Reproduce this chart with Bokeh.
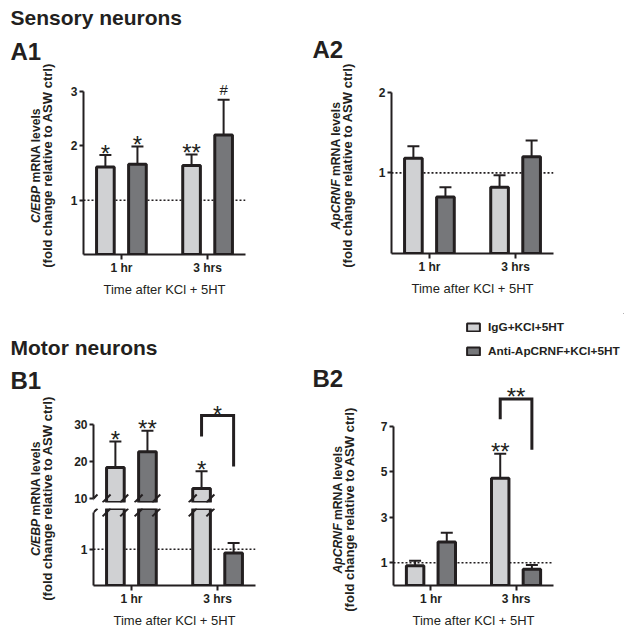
import math
from bokeh.plotting import figure
from bokeh.models import Range1d, FixedTicker, Span, Label, Legend, LegendItem
from bokeh.layouts import row, column
from bokeh.embed import file_html
from bokeh.resources import INLINE
from bokeh.core.properties import value

FONT = "Liberation Sans"
INK = "#231f20"

# ---------------- data ----------------
times = ["1 hr", "3 hrs"]
series = ["IgG+KCl+5HT", "Anti-ApCRNF+KCl+5HT"]
series_colors = ["#d0d1d3", "#76777a"]

# A1: C/EBP mRNA, sensory neurons
a1_igg = [1.61, 1.64]
a1_igg_sem = [0.22, 0.20]
a1_anti = [1.66, 2.20]
a1_anti_sem = [0.33, 0.65]
a1_marks = [(0, 0, "*"), (1, 0, "*"), (0, 1, "**"), (1, 1, "#")]

# A2: ApCRNF mRNA, sensory neurons
a2_igg = [1.18, 0.82]
a2_igg_sem = [0.15, 0.15]
a2_anti = [0.70, 1.20]
a2_anti_sem = [0.12, 0.20]

# B1: C/EBP mRNA, motor neurons
b1_igg = [18.3, 12.7]
b1_igg_sem = [7.0, 4.6]
b1_anti = [22.6, 0.90]
b1_anti_sem = [5.6, 0.27]
b1_marks = [(0, 0, "*"), (1, 0, "**"), (0, 1, "*")]
b1_bracket = (1, 26.7, 32.3, 18.6, "*")   # time, left end, top, right end, text

# B2: ApCRNF mRNA, motor neurons
b2_igg = [0.87, 4.72]
b2_igg_sem = [0.22, 1.08]
b2_anti = [1.92, 0.71]
b2_anti_sem = [0.40, 0.19]
b2_marks = [(0, 1, "**")]
b2_bracket = (1, 7.32, 8.21, 5.98, "**")

x_title = "Time after KCl + 5HT"
y_title2 = "(fold change relative to ASW ctrl)"

# ---------------- geometry ----------------
X = [1, 2]
OFF = [-0.186, 0.186]
BAR_W = 0.205
XR = (0.56, 2.44)
BASE_FIX = 8   # Label baseline correction (px)

CHAR_W = {"C": 722, "/": 278, "E": 667, "B": 722, "P": 667, " ": 278, "m": 889,
          "R": 722, "N": 722, "A": 722, "l": 278, "e": 556, "v": 556, "s": 556,
          "p": 611, "F": 611}


def text_w(t, size):
    return sum(CHAR_W.get(c, 600) for c in t) / 1000.0 * size


def make_fig(w, h, yr, bl, br, bt, bb, xaxis=True):
    p = figure(width=w, height=h, x_range=Range1d(*XR), y_range=Range1d(*yr),
               output_backend="svg", toolbar_location=None, title=None,
               min_border_left=bl, min_border_right=br, min_border_top=bt,
               min_border_bottom=bb, x_axis_location="below" if xaxis else None,
               outline_line_color=None, background_fill_color="white")
    p.frame_align = False
    p.grid.visible = False
    for ax in p.axis:
        ax.axis_line_width = 2
        ax.axis_line_color = INK
        ax.major_tick_line_width = 2
        ax.major_tick_line_color = INK
        ax.major_tick_in = 0
        ax.minor_tick_line_color = None
        ax.major_label_text_font = FONT
        ax.major_label_text_font_size = "12px"
        ax.major_label_text_font_style = "bold"
        ax.major_label_text_color = INK
    p.yaxis.major_tick_out = 4
    p.yaxis.major_label_standoff = 2
    if xaxis:
        p.xaxis.major_tick_out = 5
        p.xaxis.ticker = FixedTicker(ticks=X)
        p.xaxis.major_label_overrides = {X[i]: times[i] for i in range(len(times))}
        p.xaxis.major_label_standoff = 1
        p.xaxis.axis_label = x_title
        p.xaxis.axis_label_text_font = FONT
        p.xaxis.axis_label_text_font_size = "13px"
        p.xaxis.axis_label_text_font_style = "normal"
        p.xaxis.axis_label_text_color = INK
        p.xaxis.axis_label_standoff = 4
    return p


def blank(w, h):
    p = figure(width=w, height=h, output_backend="svg", toolbar_location=None, title=None,
               x_range=Range1d(0, 1), y_range=Range1d(0, 1),
               x_axis_location=None, y_axis_location=None, min_border=0,
               outline_line_color=None)
    p.frame_align = False
    p.grid.visible = False
    return p


def lab(p, x, y, text, size, style="bold", angle=0.0, align="left", baseline="alphabetic"):
    p.add_layout(Label(x=x, y=y, x_units="screen", y_units="screen", text=text,
                       angle=angle, text_font=FONT, text_font_size=size,
                       text_font_style=style, text_align=align,
                       text_baseline=baseline, text_color=INK))


def heading(p, x, y, text, size):
    lab(p, x, y + BASE_FIX, text, size)


def ylab(p, x1, x2, yc, ital, rest, size1=12.2, size2=13):
    w_it = text_w(ital, size1)
    w_sp = text_w(" ", size1)
    total = w_it + w_sp + text_w(rest, size1)
    boundary = yc - total / 2 + w_it
    fs1 = f"{size1}px"
    lab(p, x1, boundary, ital, fs1, "bold italic", math.pi / 2, "right", "middle")
    lab(p, x1, boundary + w_sp, rest, fs1, "bold", math.pi / 2, "left", "middle")
    lab(p, x2, yc, y_title2, f"{size2}px", "bold", math.pi / 2, "center", "middle")


def bars(p, igg, igg_sem, anti, anti_sem, min_val=None):
    for s, (m, e) in enumerate([(igg, igg_sem), (anti, anti_sem)]):
        keep = [i for i in range(len(X)) if min_val is None or m[i] >= min_val]
        xs = [X[i] + OFF[s] for i in keep]
        mv = [m[i] for i in keep]
        tops = [m[i] + e[i] for i in keep]
        p.segment(x0=xs, y0=mv, x1=xs, y1=tops, line_color=INK, line_width=2)
        p.vbar(x=xs, top=mv, bottom=0, width=BAR_W, fill_color=series_colors[s],
               line_color=INK, line_width=3)
        p.scatter(x=xs, y=tops, marker="dash", size=12, line_color=INK, line_width=2)


def marks(p, means, sems, mk):
    xs, ys, txt, fsz, yo = [], [], [], [], []
    for s, t, tx in mk:
        xs.append(X[t] + OFF[s])
        ys.append(means[s][t] + sems[s][t])
        txt.append(tx)
        fsz.append("15px" if tx == "#" else "24px")
        yo.append(-10 if tx == "#" else -2)
    p.text(x=xs, y=ys, text=txt, text_font=value(FONT), text_font_size=fsz,
           y_offset=yo, text_align="center", text_baseline="alphabetic", text_color=INK)


def bracket(p, br, size="24px", yoff=-2):
    t, yl, yt, yr_, tx = br
    xl, xr = X[t] + OFF[0], X[t] + OFF[1]
    p.line(x=[xl, xl, xr, xr], y=[yl, yt, yt, yr_], line_color=INK, line_width=3,
           line_join="miter")
    p.text(x=[X[t]], y=[yt], text=[tx], text_font=value(FONT), text_font_size=value(size),
           y_offset=yoff, text_align="center", text_baseline="alphabetic", text_color=INK)


def ref_line(p):
    p.add_layout(Span(location=1, dimension="width", line_color=INK, line_width=1.6,
                      line_dash="2 2", level="underlay"))


# ---------------- A row ----------------
A_head = blank(624, 35)
heading(A_head, 10, 10, "Sensory neurons", "21px")

A1lab = blank(58, 278)
heading(A1lab, 10, 253.7, "A1", "24px")
ylab(A1lab, 35, 47, 148, "C/EBP", "mRNA levels")

A1 = make_fig(252, 278, (0, 3.295), 25, 65, 40, 59)
ref_line(A1)
bars(A1, a1_igg, a1_igg_sem, a1_anti, a1_anti_sem)
marks(A1, [a1_igg, a1_anti], [a1_igg_sem, a1_anti_sem], a1_marks)
A1.yaxis.ticker = FixedTicker(ticks=[1, 2, 3])
A1.yaxis.bounds = (0, 3)

A2lab = blank(58, 278)
heading(A2lab, 2, 256.3, "A2", "24px")
ylab(A2lab, 25, 37, 148, "ApCRNF", "mRNA levels")

A2 = make_fig(256, 278, (0, 2.207), 23, 71, 40, 60)
ref_line(A2)
bars(A2, a2_igg, a2_igg_sem, a2_anti, a2_anti_sem)
A2.yaxis.ticker = FixedTicker(ticks=[1, 2])
A2.yaxis.bounds = (0, 2)

# ---------------- B1 (broken axis: two stacked figures) ----------------
B1head = blank(310, 80)
heading(B1head, 10, 38, "Motor neurons", "21px")
heading(B1head, 10, 5.5, "B1", "24px")

B1lab = blank(60, 237)
ylab(B1lab, 35, 47, 132, "C/EBP", "mRNA levels")

PX_X = 162 / (XR[1] - XR[0])
UP_PX = 3.72      # px per unit, upper segment
LO_PX = 36.7      # px per unit, lower segment
BREAK_UP = 10
BREAK_LO = 2.016
PAD = 4

B1t = make_fig(250, 114, (BREAK_UP - PAD / UP_PX, BREAK_UP + 105 / UP_PX), 33, 55, 0, 5,
               xaxis=False)
bars(B1t, b1_igg, b1_igg_sem, b1_anti, b1_anti_sem, min_val=BREAK_UP)
marks(B1t, [b1_igg, b1_anti], [b1_igg_sem, b1_anti_sem], b1_marks)
bracket(B1t, b1_bracket, size="23px", yoff=-1)
B1t.yaxis.ticker = FixedTicker(ticks=[10, 20, 30])
B1t.yaxis.bounds = (10, 30)

B1b = make_fig(250, 123, (0, BREAK_LO + PAD / LO_PX), 33, 55, 1, 44)
ref_line(B1b)
bars(B1b, b1_igg, b1_igg_sem, b1_anti, b1_anti_sem)
B1b.yaxis.ticker = FixedTicker(ticks=[1])
B1b.yaxis.bounds = (0, BREAK_LO)

# break marks on the axis and on the sides of the interrupted bars
brk_x = [XR[0]]
for s, vals in enumerate([b1_igg, b1_anti]):
    for t, v in enumerate(vals):
        if v >= BREAK_UP:
            c = X[t] + OFF[s]
            brk_x += [c - BAR_W / 2, c + BAR_W / 2]
dx = 4 / PX_X
for fig, lev, pxu in [(B1t, BREAK_UP, UP_PX), (B1b, BREAK_LO, LO_PX)]:
    dy = 4 / pxu
    fig.segment(x0=[b - dx for b in brk_x], y0=[lev - dy] * len(brk_x),
                x1=[b + dx for b in brk_x], y1=[lev + dy] * len(brk_x),
                line_color=INK, line_width=2)

# ---------------- B2 ----------------
B2head = blank(314, 53)
# swatch renderers for the legend (drawn outside the visible range)
dummies = [B2head.vbar(x=[5], top=[5], bottom=[4], width=1, fill_color=series_colors[i],
                       line_color=INK, line_width=2) for i in range(2)]
leg = Legend(items=[LegendItem(label=series[i], renderers=[dummies[i]]) for i in range(2)],
             location=(155, 8), padding=0, margin=0, spacing=10,
             glyph_width=16, glyph_height=10, label_standoff=7,
             label_text_font=FONT, label_text_font_size="11.8px",
             label_text_font_style="bold", label_text_color=INK,
             border_line_color=None, background_fill_alpha=0)
B2head.add_layout(leg)

B2lab = blank(58, 264)
heading(B2lab, 2, 244.3, "B2", "24px")
ylab(B2lab, 27, 38.5, 121, "ApCRNF", "mRNA levels")

B2 = make_fig(256, 264, (0, 9.376), 25, 71, 6, 43)
ref_line(B2)
bars(B2, b2_igg, b2_igg_sem, b2_anti, b2_anti_sem)
marks(B2, [b2_igg, b2_anti], [b2_igg_sem, b2_anti_sem], b2_marks)
bracket(B2, b2_bracket)
B2.yaxis.ticker = FixedTicker(ticks=[1, 3, 5, 7])
B2.yaxis.bounds = (0, 7)

layout = column(
    A_head,
    row(A1lab, A1, A2lab, A2),
    row(column(B1head, row(B1lab, column(B1t, B1b))),
        column(B2head, row(B2lab, B2))),
)

with open("out.html", "w") as f:
    f.write(file_html(layout, INLINE, "plot"))
